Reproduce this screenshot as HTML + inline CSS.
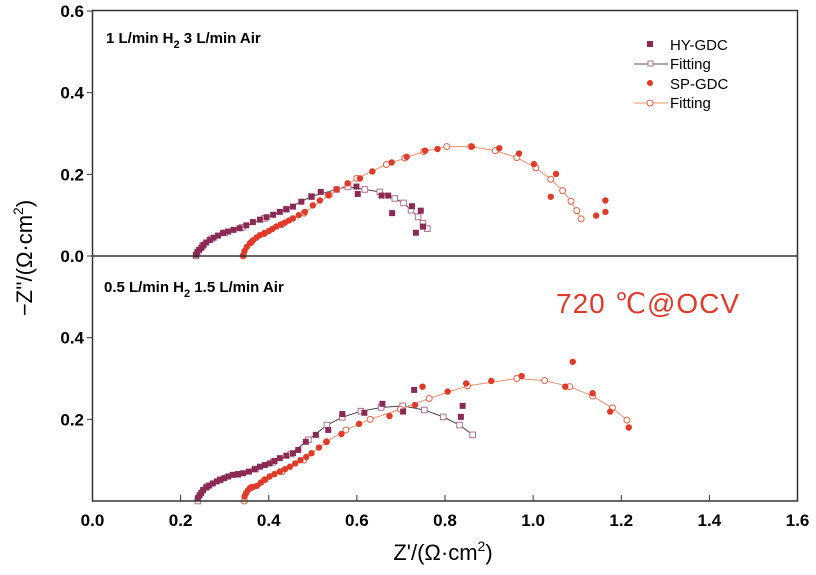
<!DOCTYPE html>
<html><head><meta charset="utf-8"><style>
body{margin:0;background:#fff}
svg{display:block;font-family:"Liberation Sans",Arial,sans-serif}
</style></head><body>
<svg id="chart" width="816" height="575" viewBox="0 0 816 575" xmlns="http://www.w3.org/2000/svg">
<rect x="0" y="0" width="816" height="575" fill="#fff"/>
<g id="marks"></g>
<rect x="92.5" y="10.5" width="705" height="490.5" fill="none" stroke="#333" stroke-width="1.5"/>
<line x1="92.5" y1="256" x2="797.5" y2="256" stroke="#333" stroke-width="1.5"/>
<g id="axes"></g>
<text x="106" y="43" font-size="15" font-weight="bold">1 L/min H<tspan font-size="11" dy="5">2</tspan><tspan dy="-5">  3 L/min Air</tspan></text>
<text x="104" y="292" font-size="15" font-weight="bold">0.5 L/min H<tspan font-size="11" dy="5">2</tspan><tspan dy="-5">  1.5 L/min Air</tspan></text>
<text x="556" y="313" font-size="28" fill="#e03a2a" letter-spacing="1">720 ℃@OCV</text>
<text x="443" y="560" font-size="22" text-anchor="middle">Z'/(Ω·cm<tspan font-size="14" dy="-9">2</tspan><tspan dy="9">)</tspan></text>
<text transform="translate(32,258) rotate(-90)" font-size="22" text-anchor="middle">−Z''/(Ω·cm<tspan font-size="14" dy="-9">2</tspan><tspan dy="9">)</tspan></text>
<g>
<rect x="647" y="41" width="6" height="6" fill="#8b2a55"/>
<text x="670" y="50" font-size="15">HY-GDC</text>
<line x1="634" y1="64" x2="668" y2="64" stroke="#555" stroke-width="1"/>
<rect x="648" y="61" width="5" height="5" fill="#fff" stroke="#b07090"/>
<text x="670" y="69" font-size="15">Fitting</text>
<circle cx="650" cy="83" r="3" fill="#e03a2a"/>
<text x="670" y="89" font-size="15">SP-GDC</text>
<line x1="634" y1="103" x2="668" y2="103" stroke="#f09070" stroke-width="1"/>
<circle cx="650" cy="103" r="3" fill="#fff" stroke="#e86040"/>
<text x="670" y="108" font-size="15">Fitting</text>
</g>
</svg>
<script>
const xTicks=[0.0,0.2,0.4,0.6,0.8,1.0,1.2,1.4,1.6];
const yTicksUpper=[0.0,0.2,0.4,0.6];
const yTicksLower=[0.2,0.4];
// upper panel
const hyUpX=[0.235,0.238,0.242,0.247,0.252,0.258,0.266,0.275,0.285,0.296,0.308,0.32,0.334,0.349,0.364,0.38,0.395,0.41,0.425,0.44,0.455,0.474,0.497,0.518,0.599,0.602,0.656,0.671,0.68,0.725,0.745,0.75,0.734];
const hyUpY=[0.003,0.01,0.015,0.02,0.027,0.033,0.039,0.045,0.05,0.056,0.06,0.064,0.068,0.075,0.083,0.089,0.095,0.101,0.108,0.114,0.121,0.133,0.145,0.157,0.17,0.152,0.148,0.148,0.105,0.122,0.111,0.072,0.057];
const hyFitUpX=[0.235,0.25,0.27,0.3,0.34,0.39,0.44,0.497,0.554,0.58,0.618,0.652,0.686,0.706,0.723,0.739,0.75,0.76];
const hyFitUpY=[0.0,0.025,0.042,0.057,0.07,0.092,0.115,0.146,0.163,0.17,0.163,0.157,0.141,0.13,0.112,0.096,0.08,0.067];
const spUpX=[0.342,0.345,0.35,0.357,0.364,0.372,0.38,0.39,0.4,0.408,0.417,0.427,0.437,0.446,0.455,0.468,0.482,0.5,0.516,0.535,0.554,0.579,0.607,0.635,0.679,0.713,0.755,0.783,0.861,0.923,0.968,1.002,1.052,1.04,1.143,1.164,1.164];
const spUpY=[0.002,0.012,0.022,0.031,0.038,0.045,0.051,0.056,0.061,0.066,0.072,0.077,0.082,0.087,0.092,0.1,0.108,0.124,0.136,0.149,0.163,0.178,0.19,0.207,0.229,0.243,0.258,0.262,0.268,0.264,0.251,0.225,0.201,0.145,0.099,0.108,0.136];
const spFitUpX=[0.342,0.36,0.39,0.43,0.48,0.537,0.6,0.667,0.709,0.752,0.804,0.859,0.914,0.963,1.006,1.04,1.067,1.086,1.099,1.109];
const spFitUpY=[0.0,0.033,0.055,0.077,0.105,0.149,0.19,0.224,0.24,0.256,0.268,0.268,0.258,0.241,0.216,0.188,0.16,0.134,0.111,0.091];
// lower panel
const hyLoX=[0.239,0.243,0.247,0.251,0.258,0.265,0.273,0.282,0.29,0.299,0.308,0.318,0.33,0.342,0.355,0.368,0.38,0.391,0.402,0.413,0.425,0.44,0.455,0.467,0.484,0.507,0.535,0.567,0.617,0.658,0.705,0.73,0.84,0.836];
const hyLoY=[0.007,0.014,0.02,0.027,0.033,0.038,0.043,0.048,0.052,0.056,0.06,0.064,0.066,0.068,0.072,0.078,0.084,0.088,0.092,0.098,0.105,0.111,0.117,0.125,0.145,0.162,0.174,0.213,0.216,0.238,0.219,0.272,0.233,0.206];
const hyFitLoX=[0.239,0.26,0.29,0.33,0.37,0.41,0.45,0.49,0.532,0.567,0.609,0.655,0.704,0.753,0.796,0.833,0.863];
const hyFitLoY=[0.0,0.035,0.052,0.065,0.078,0.095,0.115,0.15,0.186,0.205,0.22,0.229,0.233,0.223,0.206,0.186,0.162];
const spLoX=[0.345,0.348,0.352,0.357,0.364,0.373,0.382,0.392,0.402,0.413,0.425,0.437,0.448,0.46,0.472,0.485,0.497,0.514,0.531,0.565,0.605,0.674,0.732,0.749,0.806,0.848,0.905,0.974,1.073,1.135,1.175,1.217,1.09];
const spLoY=[0.011,0.018,0.025,0.031,0.034,0.037,0.045,0.052,0.06,0.066,0.072,0.078,0.084,0.092,0.1,0.108,0.117,0.131,0.145,0.164,0.189,0.208,0.235,0.28,0.268,0.288,0.294,0.306,0.28,0.264,0.219,0.18,0.341];
const spFitLoX=[0.345,0.36,0.39,0.43,0.48,0.531,0.575,0.63,0.699,0.764,0.851,0.963,1.026,1.083,1.135,1.18,1.213];
const spFitLoY=[0.0,0.033,0.052,0.072,0.1,0.145,0.174,0.2,0.225,0.251,0.282,0.3,0.295,0.28,0.257,0.228,0.198];

const NS='http://www.w3.org/2000/svg';
const X0=92.5,X1=797.5;
const xs=v=>X0+(v/1.6)*(X1-X0);
const yUp=v=>256-v*408.3;
const yLo=v=>501-v*408.3;
const marks=document.getElementById('marks');
const axes=document.getElementById('axes');
function mk(tag,attrs,parent){const e=document.createElementNS(NS,tag);for(const k in attrs)e.setAttribute(k,attrs[k]);parent.appendChild(e);return e;}

xTicks.forEach(t=>{
  const l=mk('line',{x1:xs(t),x2:xs(t),y1:501,y2:495,stroke:'#333','stroke-width':1},axes);
  
  
  const tx=mk('text',{x:xs(t),y:526,'font-size':17,'font-weight':'bold','text-anchor':'middle'},axes);
  
  
  tx.textContent=t.toFixed(1);
});
yTicksUpper.forEach(t=>{
  const l=mk('line',{x1:87,x2:92.5,y1:yUp(t),y2:yUp(t),stroke:'#333','stroke-width':1},axes);
  
  
  const tx=mk('text',{x:84,y:yUp(t)+6,'font-size':17,'font-weight':'bold','text-anchor':'end'},axes);
  
  
  tx.textContent=t.toFixed(1);
});
yTicksLower.forEach(t=>{
  const l=mk('line',{x1:87,x2:92.5,y1:yLo(t),y2:yLo(t),stroke:'#333','stroke-width':1},axes);
  
  
  const tx=mk('text',{x:84,y:yLo(t)+6,'font-size':17,'font-weight':'bold','text-anchor':'end'},axes);
  
  
  tx.textContent=t.toFixed(1);
});

function fitLine(X,Y,yf,lineCol,mkCol,shape,name){
  const g=mk('g',{},marks);
  
  
  const p=mk('polyline',{points:X.map((v,i)=>xs(v)+','+yf(Y[i])).join(' '),fill:'none',stroke:lineCol,'stroke-width':1},g);
  
  
  X.forEach((v,i)=>{
    let e;
    if(shape==='sq') e=mk('rect',{x:xs(v)-2.8,y:yf(Y[i])-2.8,width:5.6,height:5.6,fill:'#fff',stroke:mkCol,'stroke-width':1},g);
    else e=mk('circle',{cx:xs(v),cy:yf(Y[i]),r:3,fill:'#fff',stroke:mkCol,'stroke-width':1},g);
    
    
  });
}
function scatter(X,Y,yf,col,shape,name){
  const g=mk('g',{},marks);
  
  
  X.forEach((v,i)=>{
    let e;
    if(shape==='sq') e=mk('rect',{x:xs(v)-3,y:yf(Y[i])-3,width:6,height:6,fill:col},g);
    else e=mk('circle',{cx:xs(v),cy:yf(Y[i]),r:3.2,fill:col},g);
    
    
  });
}
fitLine(hyFitUpX,hyFitUpY,yUp,'#444','#b07090','sq','hy-fitting-upper');
fitLine(spFitUpX,spFitUpY,yUp,'#f09070','#e86040','ci','sp-fitting-upper');
scatter(hyUpX,hyUpY,yUp,'#8b2a55','sq','hy-gdc-upper');
scatter(spUpX,spUpY,yUp,'#e03a2a','ci','sp-gdc-upper');
fitLine(hyFitLoX,hyFitLoY,yLo,'#444','#b07090','sq','hy-fitting-lower');
fitLine(spFitLoX,spFitLoY,yLo,'#f09070','#e86040','ci','sp-fitting-lower');
scatter(hyLoX,hyLoY,yLo,'#8b2a55','sq','hy-gdc-lower');
scatter(spLoX,spLoY,yLo,'#e03a2a','ci','sp-gdc-lower');
</script>
</body></html>
